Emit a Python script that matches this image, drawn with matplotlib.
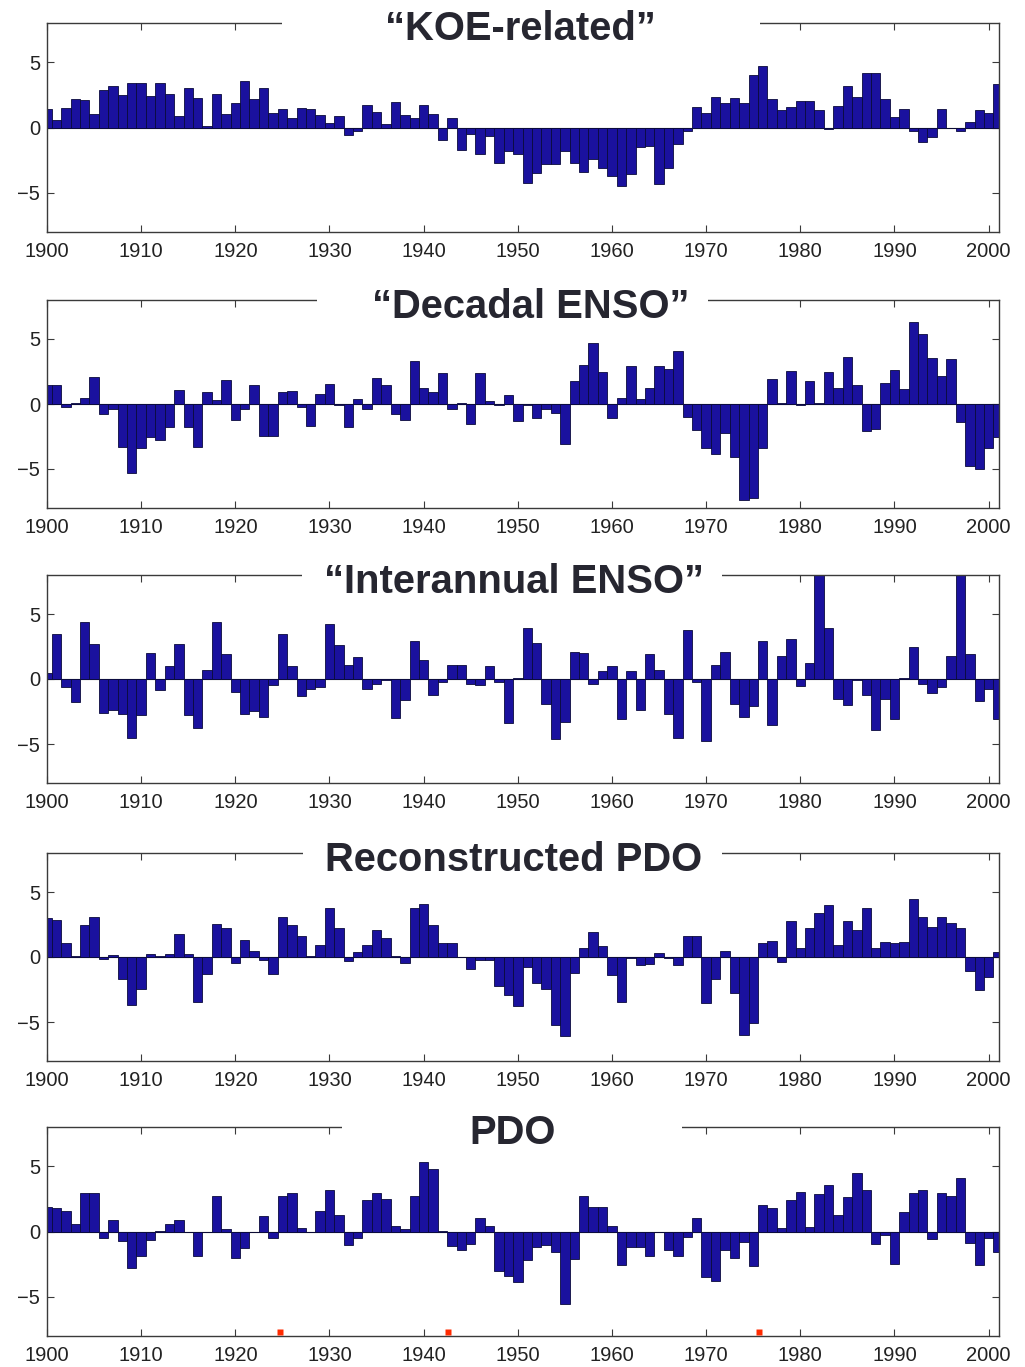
import numpy as np
import matplotlib
matplotlib.use("Agg")
import matplotlib.pyplot as plt
from matplotlib.patches import Rectangle
import matplotlib.transforms as mtransforms

# ---------------- data (annual values, 1900-2001) ----------------
start_year = 1900

koe_related = [
    1.4, 0.6, 1.5, 2.2, 2.1, 1.0, 2.9, 3.2, 2.5, 3.4,
    3.4, 2.4, 3.4, 2.6, 0.85, 3.0, 2.25, 0.1, 2.55, 1.0,
    1.9, 3.55, 2.2, 3.0, 1.1, 1.45, 0.7, 1.5, 1.4, 0.95,
    0.35, 0.9, -0.6, -0.25, 1.7, 1.15, 0.25, 1.95, 0.95, 0.7,
    1.7, 1.0, -0.95, 0.75, -1.7, -0.5, -2.0, -0.65, -2.7, -1.8,
    -2.05, -4.25, -3.5, -2.8, -2.8, -1.8, -2.7, -3.4, -2.4, -3.1,
    -3.7, -4.5, -3.55, -1.5, -1.4, -4.3, -3.1, -1.3, -0.25, 1.6,
    1.1, 2.3, 1.9, 2.25, 1.9, 4.05, 4.7, 2.2, 1.35, 1.6,
    2.05, 2.05, 1.35, -0.15, 1.65, 3.2, 2.35, 4.15, 4.15, 2.15,
    0.8, 1.4, -0.25, -1.1, -0.75, 1.4, -0.05, -0.25, 0.45, 1.35,
    1.1, 3.3]

decadal_enso = [
    1.5, 1.5, -0.25, 0.05, 0.5, 2.1, -0.8, -0.35, -3.3, -5.3,
    -3.4, -2.5, -2.75, -1.75, 1.1, -1.75, -3.3, 0.95, 0.3, 1.85,
    -1.25, -0.4, 1.5, -2.45, -2.45, 0.9, 1.0, -0.2, -1.7, 0.75,
    1.55, -0.1, -1.75, 0.4, -0.35, 2.0, 1.45, -0.8, -1.2, 3.3,
    1.2, 0.95, 2.4, -0.4, 0.05, -1.55, 2.4, 0.2, -0.05, 0.7,
    -1.3, -0.05, -1.1, -0.4, -0.7, -3.05, 1.8, 3.0, 4.7, 2.45,
    -1.1, 0.5, 2.9, 0.4, 1.2, 2.9, 2.7, 4.05, -1.0, -2.0,
    -3.4, -3.85, -2.2, -4.05, -7.4, -7.2, -3.4, 1.9, 0.05, 2.55,
    -0.1, 1.8, 0.05, 2.45, 1.2, 3.65, 1.45, -2.05, -1.95, 1.65,
    2.65, 1.15, 6.3, 5.4, 3.55, 2.15, 3.45, -1.35, -4.8, -5.0,
    -3.4, -2.5]

interannual_enso = [
    0.5, 3.45, -0.6, -1.75, 4.4, 2.7, -2.6, -2.4, -2.7, -4.55,
    -2.75, 2.0, -0.85, 1.0, 2.7, -2.75, -3.75, 0.7, 4.4, 1.9,
    -1.0, -2.7, -2.45, -2.95, -0.45, 3.45, 1.0, -1.3, -0.8, -0.6,
    4.25, 2.6, 1.1, 1.7, -0.75, -0.35, -0.1, -3.0, -1.6, 2.95,
    1.45, -1.2, -0.25, 1.1, 1.1, -0.35, -0.45, 1.0, -0.25, -3.4,
    0.05, 3.95, 2.8, -1.95, -4.6, -3.3, 2.1, 2.0, -0.35, 0.6,
    1.0, -3.05, 0.6, -2.4, 1.9, 0.7, -2.7, -4.5, 3.75, -0.25,
    -4.8, 1.1, 2.1, -1.95, -2.9, -2.05, 2.95, -3.55, 1.8, 3.1,
    -0.55, 1.2, 9.0, 3.9, -1.55, -2.0, -0.05, -1.2, -3.9, -1.5,
    -3.1, 0.1, 2.5, -0.35, -1.05, -0.6, 1.8, 9.0, 1.9, -1.7,
    -0.75, -3.1]

reconstructed_pdo = [
    3.0, 2.85, 1.05, 0.05, 2.5, 3.1, -0.15, 0.15, -1.7, -3.7,
    -2.45, 0.2, 0.1, 0.2, 1.8, 0.2, -3.45, -1.3, 2.55, 2.2,
    -0.45, 1.3, 0.5, -0.2, -1.3, 3.1, 2.45, 1.6, 0.05, 0.95,
    3.75, 2.25, -0.3, 0.4, 0.9, 2.1, 1.5, 0.05, -0.45, 3.8,
    4.05, 2.45, 1.05, 1.05, 0.0, -0.9, -0.25, -0.2, -2.25, -2.9,
    -3.75, -0.8, -2.0, -2.45, -5.25, -6.05, -1.2, 0.7, 1.9, 0.85,
    -1.35, -3.45, -0.05, -0.65, -0.5, 0.3, -0.05, -0.65, 1.65, 1.65,
    -3.5, -1.7, 0.5, -2.8, -6.0, -5.05, 1.1, 1.2, -0.35, 2.8,
    0.7, 2.25, 3.4, 4.0, 0.95, 2.8, 2.1, 3.8, 0.7, 1.15,
    1.1, 1.15, 4.45, 3.05, 2.3, 3.05, 2.65, 2.2, -1.1, -2.5,
    -1.55, 0.4]

pdo = [
    1.9, 1.8, 1.6, 0.55, 2.95, 2.95, -0.5, 0.9, -0.7, -2.8,
    -1.9, -0.65, 0.05, 0.55, 0.85, -0.05, -1.85, 0.0, 2.7, 0.2,
    -2.0, -1.25, 0.0, 1.2, -0.5, 2.7, 2.95, 0.3, 0.0, 1.55,
    3.15, 1.25, -1.0, -0.5, 2.4, 2.95, 2.45, 0.4, 0.2, 2.7,
    5.35, 4.8, 0.05, -1.1, -1.45, -0.95, 1.0, 0.4, -3.05, -3.4,
    -3.9, -2.2, -1.15, -1.0, -1.6, -5.55, -2.1, 2.75, 1.85, 1.85,
    0.4, -2.6, -1.2, -1.2, -1.85, 0.0, -1.45, -1.85, -0.45, 1.05,
    -3.5, -3.8, -1.4, -2.0, -0.8, -2.65, 2.0, 1.8, 0.3, 2.4,
    3.0, 0.35, 2.85, 3.55, 1.25, 2.65, 4.45, 3.2, -0.95, -0.3,
    -2.5, 1.5, 2.95, 3.2, -0.55, 2.95, 2.7, 4.1, -0.9, -2.6,
    -0.5, -1.6]

titles = ["\u201cKOE-related\u201d", "\u201cDecadal ENSO\u201d",
          "\u201cInterannual ENSO\u201d", "Reconstructed PDO", "PDO"]
series = [koe_related, decadal_enso, interannual_enso, reconstructed_pdo, pdo]

x_ticks = list(range(1900, 2001, 10))
y_ticks = [-5, 0, 5]
y_ticklabels = ["\u22125", "0", "5"]

# small red marks at the bottom of the last panel
regime_marks = [1924.7, 1942.6, 1975.6]

# ---------------- layout (pixels) ----------------
W, H = 1025, 1367
fig = plt.figure(figsize=(W / 100, H / 100), dpi=100)
fig.patch.set_facecolor("white")

ax_left, ax_right = 47, 999
tops = [23, 300, 575, 853, 1127]
bottoms = [232, 508, 783, 1061, 1336]
title_baselines = [40, 318, 593, 871, 1144]
title_centers = [520, 531, 514, 514, 513]
box_x = [(282, 760), (317, 708), (302, 722), (303, 722), (342, 682)]

bar_face = "#1a119e"
bar_edge = "#0a0a3c"
frame_col = "#3a3a3a"
text_col = "#262630"

for i, vals in enumerate(series):
    top, bot = tops[i], bottoms[i]
    ax = fig.add_axes([ax_left / W, 1 - bot / H, (ax_right - ax_left) / W, (bot - top) / H])
    years = np.arange(start_year, start_year + len(vals))
    ax.axhline(0, color="#111111", lw=0.8, zorder=1)
    ax.bar(years, vals, width=1.0, color=bar_face, edgecolor=bar_edge,
           linewidth=0.6, zorder=2)
    ax.set_xlim(1900, 2001.1)
    ax.set_ylim(-8, 8)
    ax.set_xticks(x_ticks)
    ax.set_xticklabels([str(t) for t in x_ticks])
    ax.set_yticks(y_ticks)
    ax.set_yticklabels(y_ticklabels)
    ax.tick_params(direction="in", length=5, width=0.8, top=True, right=True,
                   colors=frame_col, labelcolor="#222222",
                   labelsize=14.5, pad=5)
    ax.tick_params(axis="x", pad=7.5)
    for lab in ax.get_xticklabels() + ax.get_yticklabels():
        lab.set_fontfamily("Liberation Sans")
    for sp in ax.spines.values():
        sp.set_color(frame_col)
        sp.set_linewidth(1.0)

    if i == len(series) - 1:
        trans = mtransforms.blended_transform_factory(ax.transData, ax.transAxes)
        ax.plot(regime_marks, [0.02] * len(regime_marks), "s", color="#ff2a00",
                ms=4, mec="none", transform=trans, clip_on=False, zorder=5)

    # white title box hiding the top frame
    x0, x1 = box_x[i]
    ytop = top - 25
    ybot = top + 35
    rect = Rectangle((x0 / W, 1 - ybot / H), (x1 - x0) / W, (ybot - ytop) / H,
                     transform=fig.transFigure, facecolor="white",
                     edgecolor="none", zorder=10)
    fig.patches.append(rect)
    fig.text(title_centers[i] / W, 1 - title_baselines[i] / H, titles[i],
             ha="center", va="baseline", fontsize=28.8, fontweight="bold",
             family="Liberation Sans", color=text_col, zorder=11)

fig.savefig("out.png", dpi=100, facecolor="white")
